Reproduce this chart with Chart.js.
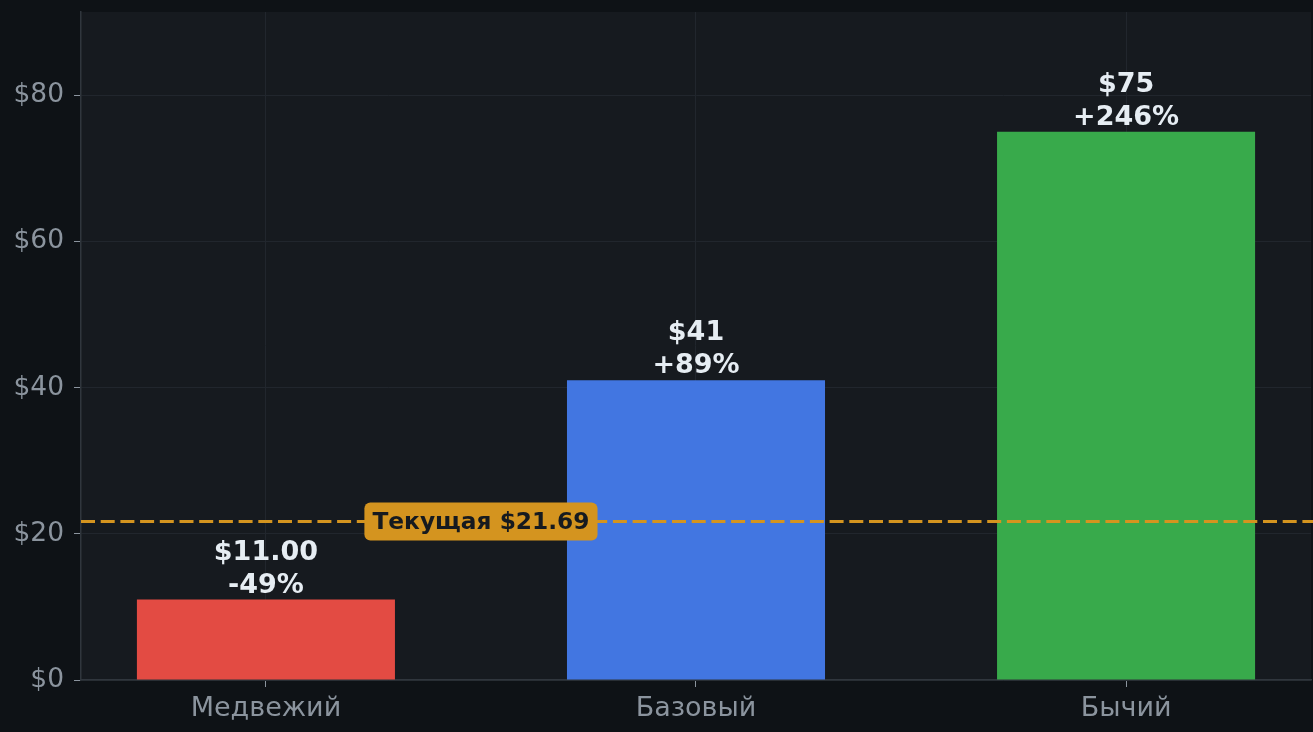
<!DOCTYPE html>
<html>
<head>
<meta charset="utf-8">
<script src="https://cdn.jsdelivr.net/npm/chart.js@4/dist/chart.umd.min.js"></script>
<style>
  html, body { margin: 0; padding: 0; background: #0e1216; }
  #wrap { width: 1313px; height: 732px; }
</style>
</head>
<body>
<div id="wrap"><canvas id="scenarioChart"></canvas></div>
<script>
// data
const scenarios = ['Медвежий', 'Базовый', 'Бычий'];
const targetPrices = [11.00, 41, 75];
const priceLabels = ['$11.00', '$41', '$75'];
const changeLabels = ['-49%', '+89%', '+246%'];
const barColors = ['#e34b43', '#4276e1', '#38aa4b'];
const yTicks = [0, 20, 40, 60, 80];
const currentPrice = 21.69;
const currentLabel = 'Текущая $21.69';

const FONT = "'DejaVu Sans', sans-serif";

const plotBackground = {
	id: 'plotBackground',
	beforeDraw(chart) {
		const { ctx, chartArea: a } = chart;
		ctx.save();
		ctx.fillStyle = '#161a1f';
		ctx.fillRect(a.left, a.top, a.right - a.left, a.bottom - a.top);
		ctx.restore();
	}
};

const barLabels = {
	id: 'barLabels',
	afterDatasetsDraw(chart) {
		const { ctx } = chart;
		const meta = chart.getDatasetMeta(0);
		ctx.save();
		ctx.fillStyle = '#e6edf3';
		ctx.font = 'bold 27px ' + FONT;
		ctx.textAlign = 'center';
		ctx.textBaseline = 'alphabetic';
		meta.data.forEach((bar, i) => {
			ctx.fillText(changeLabels[i], bar.x, bar.y - 7);
			ctx.fillText(priceLabels[i], bar.x, bar.y - 40);
		});
		ctx.restore();
	}
};

const currentLine = {
	id: 'currentLine',
	afterDatasetsDraw(chart) {
		const { ctx, chartArea: a, scales } = chart;
		const y = scales.y.getPixelForValue(currentPrice);
		ctx.save();
		ctx.strokeStyle = '#d4941f';
		ctx.lineWidth = 3;
		ctx.setLineDash([14, 5.7]);
		ctx.beginPath();
		ctx.moveTo(a.left, y);
		ctx.lineTo(a.right + 2, y);
		ctx.stroke();
		ctx.setLineDash([]);

		// label box between first and second bar
		const cx = scales.x.getPixelForValue(0.5);
		ctx.font = 'bold 23.3px ' + FONT;
		const w = ctx.measureText(currentLabel).width + 16;
		const h = 38;
		ctx.fillStyle = '#d4941f';
		ctx.beginPath();
		ctx.roundRect(cx - w / 2, y - h / 2, w, h, 6);
		ctx.fill();
		ctx.fillStyle = '#161a1f';
		ctx.textAlign = 'center';
		ctx.textBaseline = 'middle';
		ctx.fillText(currentLabel, cx, y + 1);
		ctx.restore();
	}
};

new Chart(document.getElementById('scenarioChart'), {
	type: 'bar',
	data: {
		datasets: [{
			data: targetPrices.map((v, i) => ({ x: i, y: v })),
			backgroundColor: barColors,
			borderWidth: 0,
			barPercentage: 0.6,
			categoryPercentage: 1,
		}]
	},
	options: {
		responsive: true,
		maintainAspectRatio: false,
		animation: false,
		layout: { padding: { top: 12, right: 2, left: 0, bottom: 0 } },
		plugins: {
			legend: { display: false },
			tooltip: { enabled: false }
		},
		scales: {
			x: {
				type: 'linear',
				offset: false,
				min: -0.43,
				max: 2.43,
				afterBuildTicks(scale) {
					scale.ticks = scenarios.map((_, i) => ({ value: i }));
				},
				afterFit(scale) {
					scale.height = 52;
					scale.paddingLeft = 0;
					scale.paddingRight = 0;
				},
				grid: { offset: false, color: '#21262d', tickColor: '#8b949e', tickLength: 7, lineWidth: 1 },
				border: { color: '#30363d', width: 1.5 },
				ticks: {
					color: '#8b949e',
					font: { family: FONT, size: 27 },
					padding: 6,
					maxRotation: 0,
					autoSkip: false,
					callback: (v) => scenarios[v]
				}
			},
			y: {
				min: 0,
				max: 91.4,
				afterBuildTicks(scale) {
					scale.ticks = yTicks.map(v => ({ value: v }));
				},
				afterFit(scale) {
					scale.width = 81;
					scale.paddingTop = 0;
					scale.paddingBottom = 0;
				},
				grid: { color: '#21262d', tickColor: '#8b949e', tickLength: 7, lineWidth: 1 },
				border: { color: '#30363d', width: 1.5 },
				ticks: {
					color: '#8b949e',
					font: { family: FONT, size: 26.5 },
					padding: 10,
					callback: (v) => '$' + v
				}
			}
		}
	},
	plugins: [plotBackground, barLabels, currentLine]
});
</script>
</body>
</html>
